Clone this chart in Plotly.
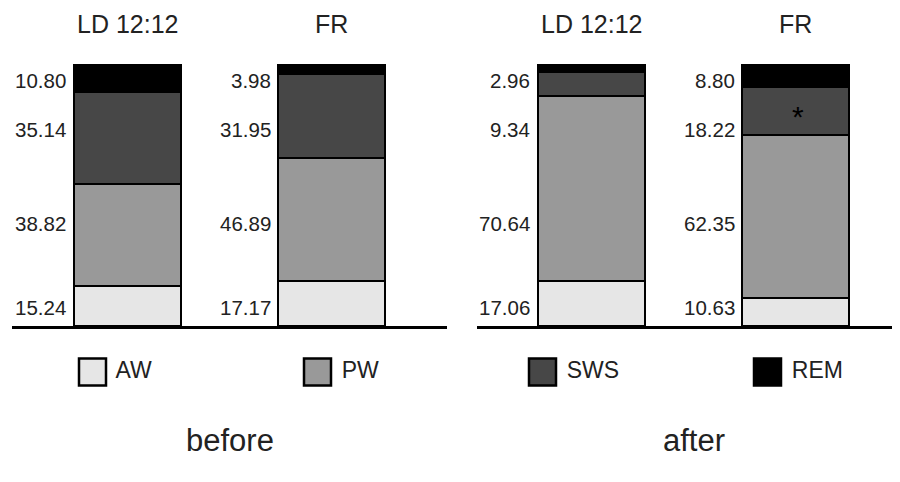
import plotly.graph_objects as go

# ---- data ----
conditions = ["LD 12:12", "FR"]
stages = ["AW", "PW", "SWS", "REM"]
before_vals = {"AW": [15.24, 17.17], "PW": [38.82, 46.89], "SWS": [35.14, 31.95], "REM": [10.80, 3.98]}
after_vals = {"AW": [17.06, 10.63], "PW": [70.64, 62.35], "SWS": [9.34, 18.22], "REM": [2.96, 8.80]}
panel_labels = ["before", "after"]
significant = [("after", "FR", "SWS")]  # marked with *

colors = {"AW": "#e6e6e6", "PW": "#999999", "SWS": "#474747", "REM": "#000000"}
FONT = "Liberation Sans, Arial, sans-serif"

# page is offset by the default 8px body margin
OFF = 8
W, H = 900 - OFF, 482 - OFF

def px_x(p):  # page pixel -> paper fraction
    return (p - OFF) / W

def px_y(p):
    return 1 - (p - OFF) / H

fig = go.Figure()

panels = [("before", before_vals, "x", "y"), ("after", after_vals, "x2", "y2")]
for name, vals, xa, ya in panels:
    for s in stages:
        fig.add_trace(go.Bar(
            x=conditions, y=vals[s], name=s, xaxis=xa, yaxis=ya,
            width=0.52, showlegend=False,
            marker=dict(color=colors[s], line=dict(color="black", width=2.5)),
            hoverinfo="skip",
        ))

# legend row built from a scatter on its own axis
fig.add_trace(go.Scatter(
    x=stages, y=[0] * len(stages), xaxis="x3", yaxis="y3",
    mode="markers+text", text=stages, texttemplate=" %{text}", textposition="middle right",
    textfont=dict(family=FONT, size=23, color="#222"),
    marker=dict(symbol="square", size=27, color=[colors[s] for s in stages],
                line=dict(color="black", width=2.5)),
    showlegend=False, hoverinfo="skip", cliponaxis=False,
))

y_dom = [px_y(326), px_y(64)]
# legend: box centres at page x 92.5 + 225*k
leg_x0 = -(92.5 - OFF) / 225
leg_x1 = 3 + (900 - 767.5) / 225

fig.update_layout(
    width=W, height=H, margin=dict(l=0, r=0, t=0, b=0),
    paper_bgcolor="white", plot_bgcolor="white",
    barmode="stack", bargap=0,
    font=dict(family=FONT, color="#222"),
    xaxis=dict(domain=[px_x(12), px_x(447)], range=[-0.566, 1.566], showticklabels=False,
               showline=True, linecolor="black", linewidth=3, ticks="", showgrid=False, zeroline=False,
               fixedrange=True),
    yaxis=dict(domain=y_dom, range=[0, 100], visible=False, fixedrange=True),
    xaxis2=dict(domain=[px_x(477), 1.0], range=[-0.561, 1.512], showticklabels=False,
                showline=True, linecolor="black", linewidth=3, ticks="", showgrid=False, zeroline=False,
                anchor="y2", fixedrange=True),
    yaxis2=dict(domain=y_dom, range=[0, 100], visible=False, anchor="x2", fixedrange=True),
    xaxis3=dict(domain=[0, 1], range=[leg_x0, leg_x1], visible=False, anchor="y3", fixedrange=True),
    yaxis3=dict(domain=[px_y(392), px_y(352)], range=[-1, 1], visible=False, anchor="x3", fixedrange=True),
)

# fixed label rows (page pixel y), value labels at left of each bar
label_rows_px = {"REM": 80, "SWS": 130, "PW": 223, "AW": 307}
annotations = []
for name, vals, xa, ya in panels:
    for i, c in enumerate(conditions):
        annotations.append(dict(x=c, xref=xa, y=px_y(24), yref="paper", text=c,
                                showarrow=False, font=dict(size=25, family=FONT, color="#222"),
                                xanchor="center", yanchor="middle"))
        for s in stages:
            annotations.append(dict(x=c, xref=xa, y=px_y(label_rows_px[s]), yref="paper",
                                    text=f"{vals[s][i]:.2f}", showarrow=False,
                                    font=dict(size=20.5, family=FONT, color="#222"),
                                    xanchor="right", yanchor="middle", xshift=-59))

# significance marker
for pname, cond, stage in significant:
    vals = after_vals if pname == "after" else before_vals
    xa, ya = ("x2", "y2") if pname == "after" else ("x", "y")
    i = conditions.index(cond)
    k = stages.index(stage)
    base = sum(vals[s][i] for s in stages[:k])
    annotations.append(dict(x=cond, xref=xa, y=base + vals[stage][i] / 2, yref=ya, text="*",
                            showarrow=False, font=dict(size=30, family=FONT, color="black"),
                            xanchor="center", yanchor="middle", yshift=-6, xshift=2))

# panel captions
for lbl, xa in zip(panel_labels, ["x", "x2"]):
    annotations.append(dict(x=0.5, xref=xa, y=px_y(440), yref="paper", text=lbl,
                            showarrow=False, font=dict(size=31, family=FONT, color="#222"),
                            xanchor="center", yanchor="middle"))

fig.update_layout(annotations=annotations)
fig.write_html("out.html")
